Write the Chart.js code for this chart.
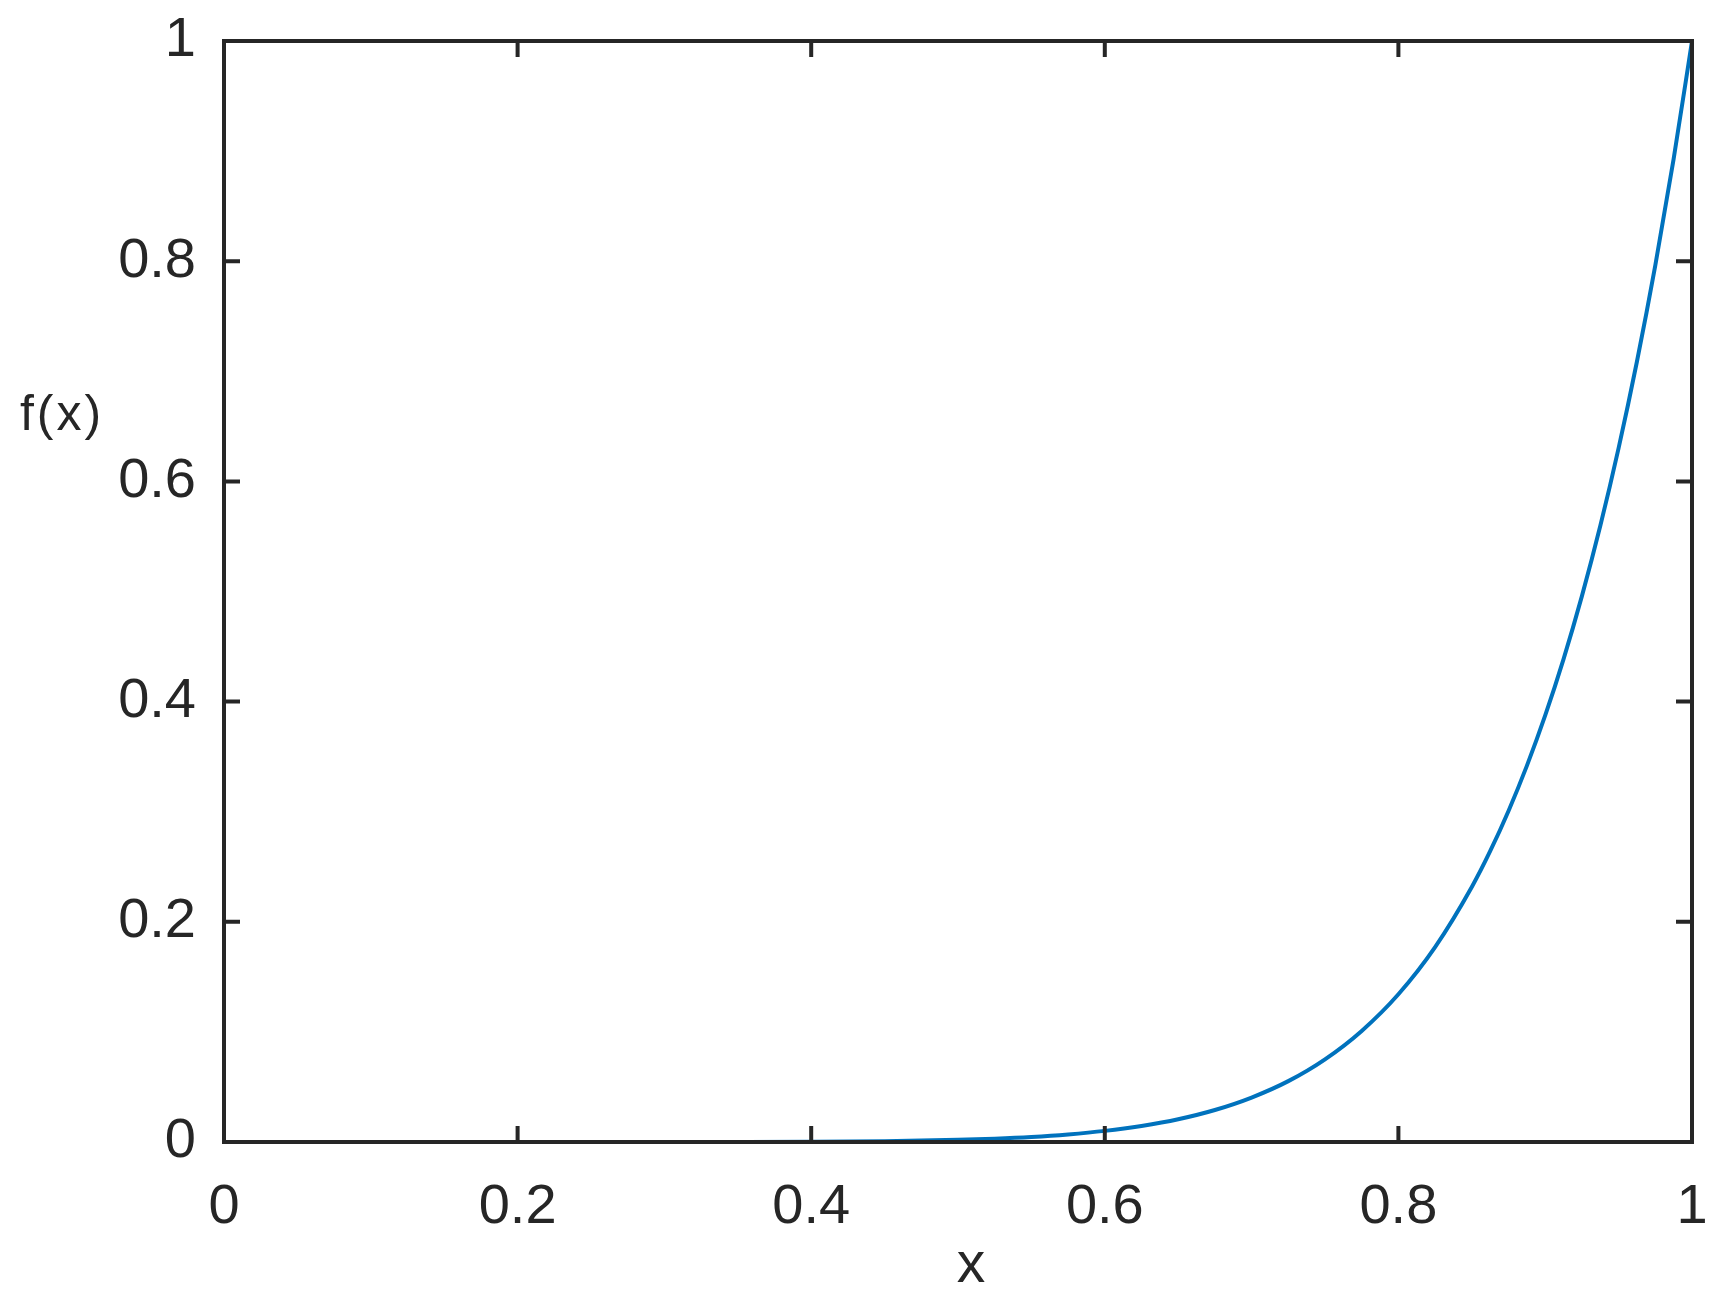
<!DOCTYPE html>
<html>
<head>
<meta charset="utf-8">
<script src="https://cdn.jsdelivr.net/npm/chart.js@4.4.1/dist/chart.umd.min.js"></script>
<style>
  html, body { margin: 0; padding: 0; background: #ffffff; }
  #wrap { width: 1722px; height: 1301px; position: relative; }
</style>
</head>
<body>
<div id="wrap"><canvas id="c" width="1722" height="1301"></canvas></div>
<script>
// x values and f(x)
const xValues = [0, 0.05, 0.1, 0.15, 0.2, 0.25, 0.3, 0.35, 0.4, 0.45, 0.5, 0.525, 0.55, 0.575, 0.6, 0.625, 0.65, 0.675, 0.7, 0.725, 0.75, 0.775, 0.8, 0.825, 0.85, 0.8625, 0.875, 0.8875, 0.9, 0.9125, 0.925, 0.9375, 0.95, 0.9625, 0.975, 0.9875, 1];
const fValues = [0, 0, 0, 0, 0.000001, 0.000004, 0.00002, 0.00008, 0.00026, 0.00076, 0.00195, 0.00303, 0.0046, 0.0069, 0.0101, 0.0146, 0.0207, 0.0291, 0.0404, 0.0553, 0.0751, 0.1009, 0.1342, 0.1770, 0.2316, 0.2641, 0.3007, 0.3416, 0.3874, 0.4386, 0.4958, 0.5594, 0.6302, 0.7089, 0.7962, 0.8930, 1];
const xTicks = [0, 0.2, 0.4, 0.6, 0.8, 1];
const yTicks = [0, 0.2, 0.4, 0.6, 0.8, 1];
const xTitle = 'x';
const yTitle = 'f(x)';

const AXIS = '#262626';
const LINE = '#0072BD';
const FONT = '"Liberation Sans", Arial, Helvetica, sans-serif';

const points = xValues.map((x, i) => ({ x: x, y: fValues[i] }));

const frame = {
  id: 'frame',
  afterDraw(chart) {
    const ctx = chart.ctx;
    const a = chart.chartArea;
    const xs = chart.scales.x, ys = chart.scales.y;
    ctx.save();
    ctx.strokeStyle = AXIS;
    ctx.lineWidth = 4;
    ctx.lineCap = 'butt';
    const tl = 16;
    ctx.beginPath();
    xTicks.forEach(v => {
      const px = xs.getPixelForValue(v);
      ctx.moveTo(px, a.bottom); ctx.lineTo(px, a.bottom - tl);
      ctx.moveTo(px, a.top); ctx.lineTo(px, a.top + tl);
    });
    yTicks.forEach(v => {
      const py = ys.getPixelForValue(v);
      ctx.moveTo(a.left, py); ctx.lineTo(a.left + tl, py);
      ctx.moveTo(a.right, py); ctx.lineTo(a.right - tl, py);
    });
    ctx.stroke();
    ctx.lineJoin = 'miter';
    ctx.strokeRect(a.left, a.top, a.right - a.left, a.bottom - a.top);
    // axis titles
    ctx.fillStyle = AXIS;
    ctx.textAlign = 'center';
    ctx.textBaseline = 'alphabetic';
    ctx.font = '57px ' + FONT;
    ctx.fillText(xTitle, 971, 1282);
    ctx.font = '50px ' + FONT;
    if ('letterSpacing' in ctx) ctx.letterSpacing = '3px';
    ctx.fillText(yTitle, 62, 430);
    ctx.restore();
  }
};

new Chart(document.getElementById('c'), {
  type: 'line',
  data: {
    datasets: [{
      data: points,
      borderColor: LINE,
      borderWidth: 4,
      pointRadius: 0,
      fill: false,
      cubicInterpolationMode: 'monotone',
      clip: false
    }]
  },
  options: {
    responsive: false,
    animation: false,
    devicePixelRatio: 1,
    layout: { padding: { top: 41, right: 30, left: 0, bottom: 0 } },
    plugins: { legend: { display: false }, tooltip: { enabled: false } },
    scales: {
      x: {
        type: 'linear', min: 0, max: 1,
        afterBuildTicks(s) { s.ticks = xTicks.map(v => ({ value: v })); },
        afterFit(s) { s.height = 159; s.paddingLeft = 0; s.paddingRight = 0; },
        grid: { display: false, drawTicks: false },
        border: { display: false },
        ticks: {
          color: AXIS, padding: 32, maxRotation: 0, autoSkip: false,
          font: { family: FONT, size: 56 },
          callback: v => String(v)
        }
      },
      y: {
        type: 'linear', min: 0, max: 1,
        afterBuildTicks(s) { s.ticks = yTicks.map(v => ({ value: v })); },
        afterFit(s) { s.width = 224; s.paddingTop = 0; s.paddingBottom = 0; },
        grid: { display: false, drawTicks: false },
        border: { display: false },
        ticks: {
          color: AXIS, padding: 28, autoSkip: false,
          font: { family: FONT, size: 56 },
          callback: v => String(v)
        }
      }
    }
  },
  plugins: [frame]
});
</script>
</body>
</html>
